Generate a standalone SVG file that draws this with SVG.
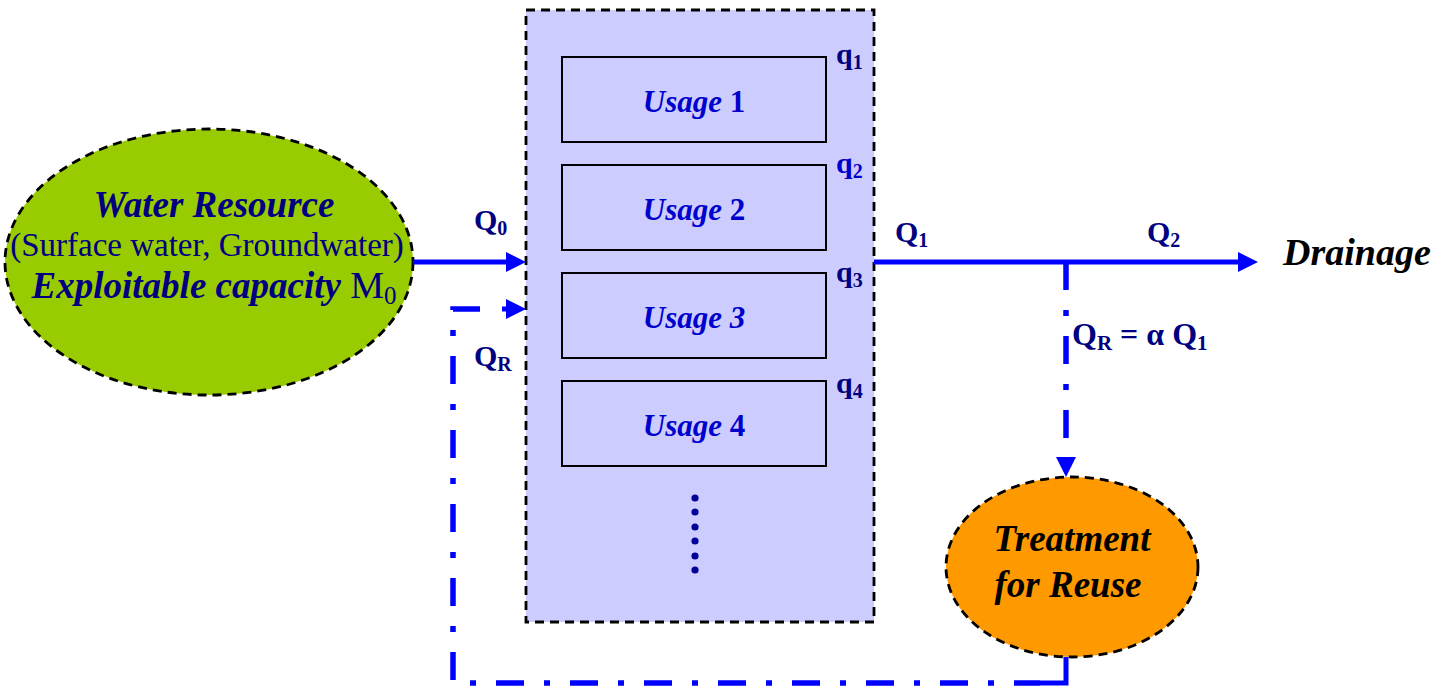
<svg xmlns="http://www.w3.org/2000/svg" width="1438" height="686" viewBox="0 0 1438 686">
  <defs>
    <!-- filled blue arrowhead, 20 long; path ends at the base -->
    <marker id="head" markerUnits="userSpaceOnUse" viewBox="0 0 20 20" markerWidth="20" markerHeight="20" refX="0" refY="10" orient="auto">
      <path d="M0,0 L20,10 L0,20 z" fill="#0000FF"/>
    </marker>
  </defs>
  <style>
    .dashed-outline { stroke: #000000; stroke-width: 2.8; stroke-dasharray: 9 6; }
    .usage-box { fill: none; stroke: #000000; stroke-width: 2; }
    .serif { font-family: "Liberation Serif", "Times New Roman", serif; }
    .bi { font-weight: bold; font-style: italic; }
    .b { font-weight: bold; }
    .navy { fill: #000080; }
    .usage { fill: #0000CC; font-size: 31px; }
    .label { font-size: 30px; font-weight: bold; fill: #000080; }
    .flow { fill: none; stroke: #0000FF; stroke-width: 5; }
    .dashdot { stroke-dasharray: 28 20 6 20; stroke-width: 5.5; }
  </style>

  <rect width="1438" height="686" fill="#FFFFFF"/>

  <!-- Usage block -->
  <g id="usage-block">
    <rect x="526" y="10" width="348" height="612" fill="#CCCCFF" class="dashed-outline"/>
  </g>

  <g id="usage-1">
    <rect x="562" y="57" width="264" height="85" class="usage-box"/>
    <text x="694" y="112" text-anchor="middle" class="serif usage"><tspan class="bi">Usage </tspan><tspan class="b">1</tspan></text>
    <text x="836" y="64" class="serif label">q<tspan font-size="20" dy="5">1</tspan></text>
  </g>
  <g id="usage-2">
    <rect x="562" y="165" width="264" height="85" class="usage-box"/>
    <text x="694" y="220" text-anchor="middle" class="serif usage"><tspan class="bi">Usage </tspan><tspan class="b">2</tspan></text>
    <text x="836" y="173" class="serif label" style="fill:#0000CC">q<tspan font-size="20" dy="5">2</tspan></text>
  </g>
  <g id="usage-3">
    <rect x="562" y="273" width="264" height="85" class="usage-box"/>
    <text x="694" y="328" text-anchor="middle" class="serif usage bi">Usage 3</text>
    <text x="836" y="282" class="serif label">q<tspan font-size="20" dy="5">3</tspan></text>
  </g>
  <g id="usage-4">
    <rect x="562" y="381" width="264" height="85" class="usage-box"/>
    <text x="694" y="436" text-anchor="middle" class="serif usage"><tspan class="bi">Usage </tspan><tspan class="b">4</tspan></text>
    <text x="836" y="393" class="serif label">q<tspan font-size="20" dy="5">4</tspan></text>
  </g>
  <g id="more-usages" fill="#000099">
    <circle cx="695" cy="498" r="3.6"/>
    <circle cx="695" cy="512" r="3.6"/>
    <circle cx="695" cy="527" r="3.6"/>
    <circle cx="695" cy="541" r="3.6"/>
    <circle cx="695" cy="556" r="3.6"/>
    <circle cx="695" cy="570" r="3.6"/>
  </g>

  <!-- Source -->
  <g id="water-resource">
    <ellipse cx="209" cy="262" rx="204" ry="133" fill="#99CC00" class="dashed-outline"/>
    <text x="214" y="217" text-anchor="middle" class="serif bi navy" font-size="37">Water Resource</text>
    <text x="207" y="256" text-anchor="middle" class="serif navy" font-size="33">(Surface water, Groundwater)</text>
    <text x="214" y="298" text-anchor="middle" class="serif navy" font-size="37"><tspan class="bi">Exploitable capacity </tspan><tspan font-size="38">M</tspan><tspan font-size="25" dy="6">0</tspan></text>
  </g>

  <!-- Treatment -->
  <g id="treatment">
    <ellipse cx="1072" cy="567" rx="126" ry="90" fill="#FF9900" class="dashed-outline"/>
    <text x="1072" y="551" text-anchor="middle" class="serif bi" font-size="37" fill="#000000">Treatment</text>
    <text x="1068" y="597" text-anchor="middle" class="serif bi" font-size="37" fill="#000000">for Reuse</text>
  </g>

  <!-- Outlet -->
  <g id="drainage">
    <text x="1283" y="265" class="serif bi" font-size="38" fill="#000000">Drainage</text>
  </g>

  <!-- Flows -->
  <g id="connectors">
    <!-- Q0: resource to usages -->
    <path d="M413,262 H506" class="flow" marker-end="url(#head)"/>
    <!-- Q1/Q2: usages to drainage -->
    <path d="M874,262 H1238" class="flow" marker-end="url(#head)"/>
    <!-- QR branch down to treatment -->
    <path d="M1066,262 V457" class="flow dashdot" stroke-dasharray="26 21 6 21" marker-end="url(#head)"/>
    <!-- QR return loop back into the usages -->
    <path d="M1040,683 H1066 V657" class="flow" stroke-width="5.5"/>
    <path d="M480,309 H453 V683 H1040" class="flow dashdot"/>
    <path d="M502,309 H506" class="flow" marker-end="url(#head)"/>
  </g>

  <!-- Flow labels -->
  <g id="flow-labels" class="serif">
    <text x="474" y="230" class="label">Q<tspan font-size="20" dy="5">0</tspan></text>
    <text x="474" y="366" class="label">Q<tspan font-size="20" dy="5">R</tspan></text>
    <text x="895" y="242" class="label">Q<tspan font-size="20" dy="5">1</tspan></text>
    <text x="1147" y="242" class="label">Q<tspan font-size="20" dy="5">2</tspan></text>
    <text x="1072" y="345" class="label" font-size="32" style="font-size:32px">Q<tspan font-size="21" dy="5">R</tspan><tspan dy="-5"> = α Q</tspan><tspan font-size="21" dy="5">1</tspan></text>
  </g>
</svg>
